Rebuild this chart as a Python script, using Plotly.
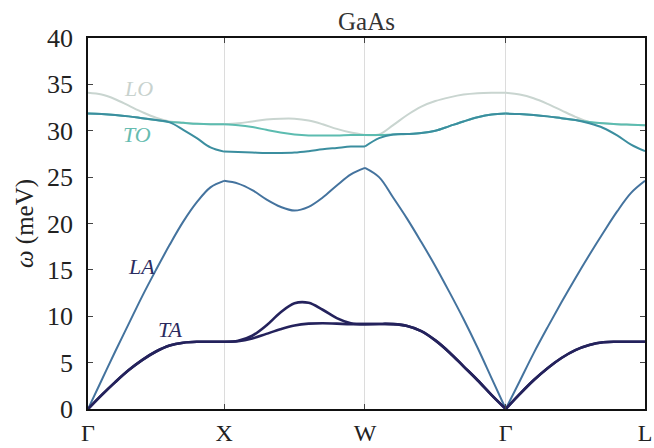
import numpy as np
import plotly.graph_objects as go

# High-symmetry path
sym_labels = ["Γ", "X", "W", "Γ", "L"]
sym_pos = [0.0, 0.977, 1.989, 3.0, 4.0]

# Band energies (meV), sampled at 11 evenly spaced points along each segment
# segments: Γ-X, X-W, W-Γ, Γ-L
ta1 = [
    [0, 1.5, 2.9, 4.2, 5.3, 6.2, 6.85, 7.15, 7.25, 7.25, 7.25],
    [7.25, 7.3, 7.6, 8.1, 8.6, 9.0, 9.2, 9.25, 9.2, 9.15, 9.15],
    [9.15, 9.17, 9.15, 8.95, 8.4, 7.4, 6.1, 4.6, 3.1, 1.5, 0],
    [0, 1.6, 3.1, 4.4, 5.5, 6.35, 6.9, 7.2, 7.25, 7.25, 7.25],
]
ta2 = [
    [0, 1.5, 2.9, 4.2, 5.3, 6.2, 6.85, 7.15, 7.25, 7.25, 7.25],
    [7.25, 7.35, 7.9, 9.0, 10.4, 11.4, 11.45, 10.7, 9.8, 9.25, 9.15],
    [9.15, 9.17, 9.15, 8.95, 8.4, 7.4, 6.1, 4.6, 3.1, 1.5, 0],
    [0, 1.6, 3.1, 4.4, 5.5, 6.35, 6.9, 7.2, 7.25, 7.25, 7.25],
]
la = [
    [0, 3.1, 6.2, 9.2, 12.2, 15.0, 17.7, 20.2, 22.3, 23.9, 24.6],
    [24.6, 24.3, 23.6, 22.6, 21.8, 21.4, 21.8, 22.8, 24.1, 25.3, 26.0],
    [26.0, 25.0, 22.8, 20.5, 18.0, 15.4, 12.6, 9.7, 6.6, 3.3, 0],
    [0, 3.0, 6.0, 8.8, 11.5, 14.1, 16.6, 19.0, 21.3, 23.3, 24.6],
]
opt_low = [
    [31.85, 31.8, 31.7, 31.55, 31.35, 31.15, 30.9, 30.1, 29.2, 28.2, 27.75],
    [27.75, 27.7, 27.65, 27.6, 27.6, 27.65, 27.8, 28.0, 28.15, 28.3, 28.3],
    [28.3, 29.2, 29.6, 29.65, 29.75, 30.0, 30.5, 31.0, 31.45, 31.75, 31.85],
    [31.85, 31.8, 31.7, 31.55, 31.35, 31.15, 30.8, 30.3, 29.5, 28.5, 27.8],
]
opt_mid = [
    [31.85, 31.8, 31.7, 31.55, 31.35, 31.15, 30.95, 30.85, 30.75, 30.7, 30.7],
    [30.7, 30.6, 30.4, 30.1, 29.8, 29.6, 29.5, 29.5, 29.5, 29.55, 29.55],
    [29.55, 29.55, 29.6, 29.65, 29.75, 30.0, 30.5, 31.0, 31.45, 31.75, 31.85],
    [31.85, 31.8, 31.7, 31.55, 31.35, 31.15, 30.95, 30.8, 30.7, 30.65, 30.6],
]
opt_high = [
    [34.1, 33.9, 33.4, 32.7, 32.0, 31.4, 31.0, 30.85, 30.75, 30.7, 30.7],
    [30.7, 30.8, 31.0, 31.2, 31.3, 31.3, 31.1, 30.7, 30.2, 29.8, 29.55],
    [29.55, 29.6, 30.6, 31.7, 32.6, 33.2, 33.6, 33.9, 34.05, 34.1, 34.1],
    [34.1, 33.9, 33.5, 32.9, 32.2, 31.5, 30.95, 30.8, 30.7, 30.65, 30.6],
]

# drawn from highest band to lowest, so lower bands sit on top where they overlap
bands = [opt_high, opt_mid, opt_low, la, ta2, ta1]
band_colors = ["#c9d5d0", "#5cbcb0", "#3b8e9f", "#44739e", "#24225c", "#24225c"]
band_widths = [2.0, 2.0, 2.0, 2.0, 2.6, 2.6]

# Branch labels
branch_names = ["LO", "TO", "LA", "TA"]
branch_x = [0.36, 0.355, 0.385, 0.59]
branch_y = [34.6, 29.6, 15.4, 8.6]
branch_colors = ["#c8d2ce", "#66bcb0", "#2a2c60", "#2a2a5e"]

font_family = "Liberation Serif"

fig = go.Figure()
for band, col, w in zip(bands, band_colors, band_widths):
    for s, seg in enumerate(band):
        xs = np.linspace(sym_pos[s], sym_pos[s + 1], len(seg))
        fig.add_trace(go.Scatter(
            x=xs, y=seg, mode="lines",
            line=dict(color=col, width=w, shape="spline", smoothing=1.0),
            showlegend=False, hoverinfo="skip"))

for name, bx, by, bc in zip(branch_names, branch_x, branch_y, branch_colors):
    fig.add_annotation(x=bx, y=by, text=f"<i>{name}</i>", showarrow=False,
                       font=dict(family=font_family, size=22, color=bc),
                       xref="x", yref="y")

fig.update_layout(
    width=654, height=448,
    margin=dict(l=88, r=9, t=38, b=39),
    paper_bgcolor="white", plot_bgcolor="white",
    title=dict(text="GaAs", x=0.5, xref="paper", xanchor="center",
               y=1 - 21 / 448, yanchor="middle", yref="container",
               font=dict(family=font_family, size=25, color="#333333")),
    font=dict(family=font_family, color="#222222"),
)
fig.update_xaxes(
    range=[sym_pos[0], sym_pos[-1]],
    tickmode="array", tickvals=sym_pos, ticktext=sym_labels,
    tickfont=dict(size=24, family=font_family, color="#222222"),
    showgrid=True, gridcolor="#dcdcdc", gridwidth=1,
    showline=True, linecolor="#111111", linewidth=1.6, mirror="ticks",
    ticks="inside", ticklen=5, tickcolor="#444444",
    zeroline=False, automargin=False, ticklabelstandoff=1,
)
fig.update_yaxes(
    range=[0, 40], tickmode="array", tickvals=list(range(0, 41, 5)),
    tickfont=dict(size=26, family=font_family, color="#222222"),
    showgrid=False,
    showline=True, linecolor="#111111", linewidth=1.6, mirror="ticks",
    ticks="inside", ticklen=5, tickcolor="#444444",
    zeroline=False, automargin=False, ticklabelstandoff=8,
    title=dict(text="<i>ω</i> (meV)", font=dict(size=25, family=font_family, color="#222222"),
               standoff=6),
)

# remove the default page margin so the figure fills the window exactly
fig.write_html("out.html",
               config={"displayModeBar": False},
               post_script="document.body.style.margin='0';document.body.style.overflow='hidden';")
